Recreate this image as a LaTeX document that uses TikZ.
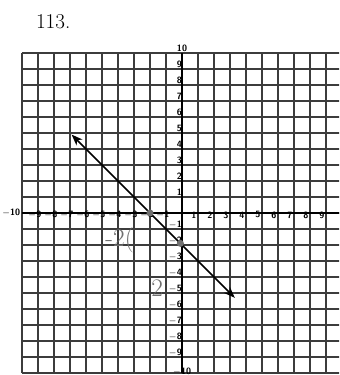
\documentclass[tikz,border=0pt]{standalone}
\usepackage{tikz}
\usetikzlibrary{arrows.meta}
\definecolor{cgrid}{HTML}{3C3C3C}
\definecolor{cpen}{HTML}{707070}

\begin{document}
\begin{tikzpicture}[x=0.4cm,y=0.4cm,>={Stealth[length=8pt,width=6pt]},
  gridline/.style={cgrid,line width=1pt},
  axisline/.style={black,line width=1.7pt},
  ticklab/.style={font=\sffamily\bfseries\fontsize{6.5}{6.5}\selectfont,inner sep=0.5pt},
  hand/.style={cpen,font=\fontsize{18}{18}\selectfont,inner sep=0pt}]
  \clip (-11.375,-10.125) rectangle (9.8125,13.3125);
  \fill[white] (-11.375,-10.125) rectangle (9.8125,13.3125);
  \node[font=\fontsize{15}{15}\selectfont] (num) at (-8.05,11.95) {113.};
  % grid and axes
  \draw[gridline,step=1] (-10,-10) grid (10,10);
  \draw[axisline] (-10,0) -- (10,0);
  \draw[axisline] (0,-10) -- (0,10);
  \node[ticklab] (ytop) at (0,10.3) {10};
  \node[ticklab] (ybot) at (0,-9.95) {$-$10};
  \node[ticklab,anchor=east] (xleft) at (-10.05,0) {$-$10};
  \foreach \k in {1,...,9} {
    \node[ticklab,anchor=east] (yp\k) at (0.05,\k+0.3) {\k};
    \node[ticklab,anchor=east] (yn\k) at (0.05,-\k+0.25) {$-$\k};
    \node[ticklab] (xp\k) at (\k-0.25,-0.12) {\k};
    \node[ticklab] (xn\k) at (-\k-0.2,-0.12) {$-$\k};
  }
  % line y = -x - 2
  \coordinate (p) at (-6.9,4.9);
  \coordinate (q) at (3.3,-5.3);
  \draw[<->,line width=1.2pt] (p) -- (q);
  % pencil marks
  \node[circle,fill=cpen,inner sep=0pt,minimum size=5pt] (xint) at (-2,0) {};
  \node[circle,fill=cpen,inner sep=0pt,minimum size=5pt] (yint) at (-0.1,-1.9) {};
  \node[hand] (mtwo) at (-3.9,-1.7) {-2(};
  \node[hand] (two) at (-1.55,-4.7) {2};
\end{tikzpicture}
\end{document}
